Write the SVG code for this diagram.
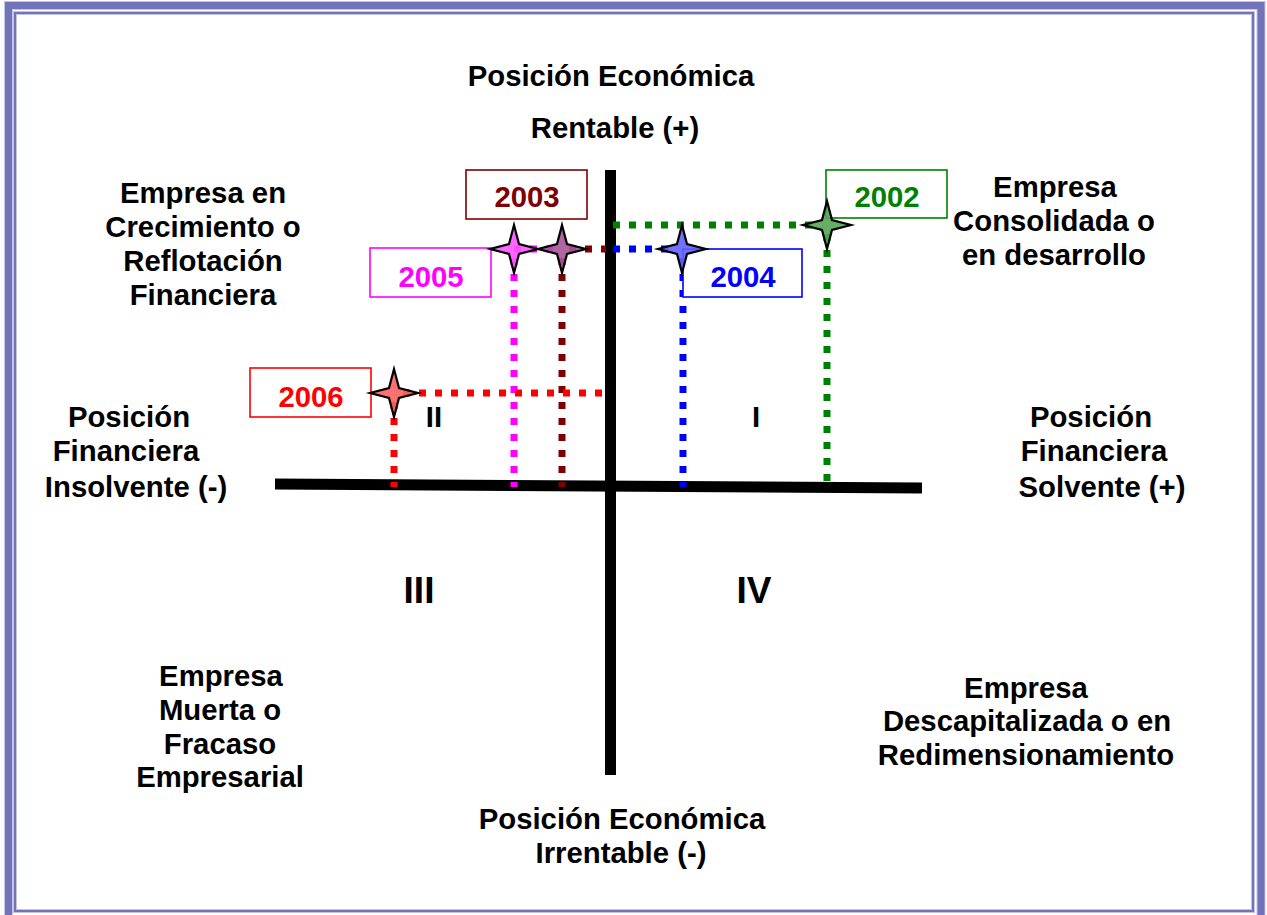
<svg xmlns="http://www.w3.org/2000/svg" width="1267" height="915" viewBox="0 0 1267 915">
<style>
text{font-family:"Liberation Sans",Arial,sans-serif;font-weight:bold;font-size:29.3px;fill:#000;text-anchor:middle}
.big{font-size:37px}
.dot{fill:none;stroke-width:7;stroke-dasharray:7 9}
.box{fill:#fff;stroke-width:1.6}
.star{stroke:#000;stroke-width:2.2;stroke-linejoin:miter}
</style>
<defs>
<path id="star" d="M0,-24 L5,-5 L24,0 L5,5 L0,24 L-5,5 L-24,0 L-5,-5 Z"/>
</defs>
<rect width="1267" height="915" fill="#fff"/>
<g id="frame" fill="none">
<rect x="8.5" y="5.5" width="1252.5" height="914" stroke="#c4c4e4" stroke-width="9"/>
<rect x="8.5" y="5.5" width="1252.5" height="914" stroke="#7373b9" stroke-width="7"/>
<rect x="15" y="13" width="1238" height="898" stroke="#c4c4e4" stroke-width="4"/>
<rect x="15" y="13" width="1238" height="898" stroke="#7373b9" stroke-width="2"/>
</g>
<g id="axes" stroke="#000">
<line x1="610.5" y1="170" x2="610.5" y2="775" stroke-width="11"/>
<line x1="275" y1="484" x2="922" y2="488" stroke-width="11"/>
</g>
<g id="connectors">
<path class="dot" stroke="#008000" d="M613,225 H820 M827,234 V487"/>
<path class="dot" stroke="#0000ff" d="M613,249 H676 M683,258 V487"/>
<path class="dot" stroke="#ff00ff" d="M514,249 H555 M514,258 V487"/>
<path class="dot" stroke="#800000" d="M569,249 H606 M562,258 V487"/>
<path class="dot" stroke="#ff0000" d="M403,393 H610 M394,402 V487"/>
</g>
<g id="y2003"><rect class="box" stroke="#800000" x="466" y="170" width="121" height="49"/><text x="527" y="207" style="fill:#800000">2003</text></g>
<g id="y2005"><rect class="box" stroke="#ff00ff" x="370" y="248" width="121" height="49"/><text x="431" y="287" style="fill:#ff00ff">2005</text></g>
<g id="y2004"><rect class="box" stroke="#0000ff" x="683" y="249" width="119" height="48"/><text x="743" y="287" style="fill:#0000ff">2004</text></g>
<g id="y2002"><rect class="box" stroke="#008000" x="826" y="170" width="121" height="48"/><text x="887" y="207" style="fill:#008000">2002</text></g>
<g id="y2006"><rect class="box" stroke="#ff0000" x="250" y="368" width="121" height="49"/><text x="311" y="407" style="fill:#ff0000">2006</text></g>
<g id="stars">
<use href="#star" class="star" x="514" y="249" fill="#ff55ff" fill-opacity="0.9"/>
<use href="#star" class="star" x="562" y="249" fill="#a8559a" fill-opacity="0.9"/>
<use href="#star" class="star" x="682" y="249" fill="#6262ff" fill-opacity="0.9"/>
<use href="#star" class="star" x="827" y="225" fill="#55a555" fill-opacity="0.9"/>
<use href="#star" class="star" x="394" y="393" fill="#ff6262" fill-opacity="0.9"/>
</g>
<g id="top-label"><text x="611" y="86">Posición Económica</text><text x="615" y="138">Rentable (+)</text></g>
<g id="bottom-label"><text x="622" y="829">Posición Económica</text><text x="621" y="863">Irrentable (-)</text></g>
<g id="left-label"><text x="129" y="427">Posición</text><text x="126" y="461">Financiera</text><text x="136" y="497">Insolvente (-)</text></g>
<g id="right-label"><text x="1091" y="427">Posición</text><text x="1094" y="461">Financiera</text><text x="1102" y="497">Solvente (+)</text></g>
<g id="q2-label"><text x="203" y="203">Empresa en</text><text x="203" y="237">Crecimiento o</text><text x="203" y="271">Reflotación</text><text x="203" y="305">Financiera</text></g>
<g id="q1-label"><text x="1055" y="197">Empresa</text><text x="1054" y="231">Consolidada o</text><text x="1054" y="265">en desarrollo</text></g>
<g id="q3-label"><text x="221" y="686">Empresa</text><text x="220" y="720">Muerta o</text><text x="220" y="754">Fracaso</text><text x="220" y="787">Empresarial</text></g>
<g id="q4-label"><text x="1026" y="698">Empresa</text><text x="1027" y="731">Descapitalizada o en</text><text x="1026" y="765">Redimensionamiento</text></g>
<g id="numerals"><text x="434" y="427">II</text><text x="756" y="427">I</text><text class="big" x="419" y="603">III</text><text class="big" x="754" y="603">IV</text></g>
</svg>
